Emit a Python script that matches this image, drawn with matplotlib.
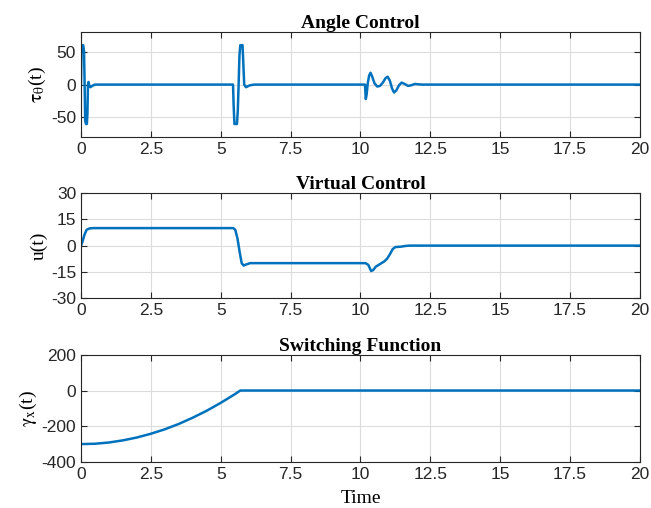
import matplotlib
matplotlib.use('Agg')
import matplotlib.pyplot as plt

# Angle control tau_theta(t)
tau_t = [0, 0.02, 0.05, 0.08, 0.11, 0.13, 0.15, 0.18, 0.21, 0.23, 0.25, 0.27, 0.30, 0.34,
         0.40, 0.50, 5.44, 5.46, 5.49, 5.58, 5.61, 5.64, 5.67, 5.70, 5.78, 5.81, 5.84, 5.90,
         5.95, 6.05, 6.2, 10.16, 10.19, 10.22, 10.26, 10.31, 10.36, 10.42, 10.50, 10.60,
         10.70, 10.80, 10.90, 10.97, 11.05, 11.13, 11.20, 11.28, 11.38, 11.47, 11.58, 11.70,
         11.82, 11.95, 12.05, 12.2, 20]
tau = [0, 55, 60, 60, 50, 0, -55, -60, -60, -45, 0, 4, -2, -4,
       -2, 0, 0, -30, -60, -60, -40, 0, 45, 60, 60, 30, 0, -4,
       -3, -1, 0, 0, -22, -15, 2, 14, 18, 12, 2, -3,
       -2, 3, 10, 12, 6, -6, -12, -9, -1, 3, 1, -2,
       -1, 1, 0.5, 0, 0]

# Virtual control u(t)
u_t = [0, 0.05, 0.12, 0.2, 0.3, 0.45, 5.45, 5.52, 5.6, 5.68, 5.75, 5.82, 5.9, 6.05,
       10.18, 10.28, 10.38, 10.45, 10.55, 10.7, 10.85, 10.95, 11.05, 11.15, 11.25,
       11.45, 11.6, 11.75, 20]
u = [0, 2, 6, 9, 9.8, 10, 10, 9, 4, -4, -10, -11.4, -10.8, -10,
     -10, -11, -14.5, -14, -12, -10.5, -9, -7.5, -5, -2, -0.8,
     -0.6, -0.2, 0, 0]

# Switching function gamma_x(t)
g_t = [0, 0.5, 1, 1.5, 2, 2.5, 3, 3.5, 4, 4.5, 5, 5.5, 5.7, 20]
g = [-300, -298, -291, -279, -263, -242, -217, -187, -152, -113, -69, -21, 0, 0]

xticks = [0, 2.5, 5, 7.5, 10, 12.5, 15, 17.5, 20]
xticklabels = ['0', '2.5', '5', '7.5', '10', '12.5', '15', '17.5', '20']

blue = '#0072BD'
serif = 'Liberation Serif'
plt.rcParams['font.family'] = 'Liberation Sans'
plt.rcParams['axes.unicode_minus'] = False
plt.rcParams['mathtext.fontset'] = 'stix'

fig = plt.figure(figsize=(6.51, 5.08), dpi=100)

panels = [
    (tau_t, tau, 'Angle Control', r'$\mathrm{\tau_{\theta}}$(t)', (-80, 80), [-50, 0, 50], [0.1244, 0.730, 0.8587, 0.207]),
    (u_t, u, 'Virtual Control', 'u(t)', (-30, 30), [-30, -15, 0, 15, 30], [0.1244, 0.413, 0.8587, 0.207]),
    (g_t, g, 'Switching Function', r'$\mathrm{\gamma_{x}}$(t)', (-400, 200), [-400, -200, 0, 200], [0.1244, 0.0906, 0.8587, 0.211]),
]

for i, (xs, ys, title, ylab, ylim, yticks, pos) in enumerate(panels):
    ax = fig.add_axes(pos)
    ax.plot(xs, ys, color=blue, lw=1.8)
    ax.set_xlim(0, 20)
    ax.set_ylim(*ylim)
    ax.set_xticks(xticks)
    ax.set_xticklabels(xticklabels)
    ax.set_yticks(yticks)
    ax.tick_params(direction='in', top=True, right=True, labelsize=12.5, length=4,
                   width=0.8, colors='#262626')
    ax.grid(True, color='#dcdcdc', lw=0.8)
    ax.set_axisbelow(True)
    for s in ax.spines.values():
        s.set_color('#262626')
        s.set_linewidth(0.8)
    ax.set_title(title, fontfamily=serif, fontweight='bold', fontsize=14, pad=3)
    ax.set_ylabel(ylab, fontfamily=serif, fontsize=14, labelpad=2)
    if i == 2:
        ax.set_xlabel('Time', fontfamily=serif, fontsize=14, labelpad=6)

fig.savefig('out.png', dpi=100)
